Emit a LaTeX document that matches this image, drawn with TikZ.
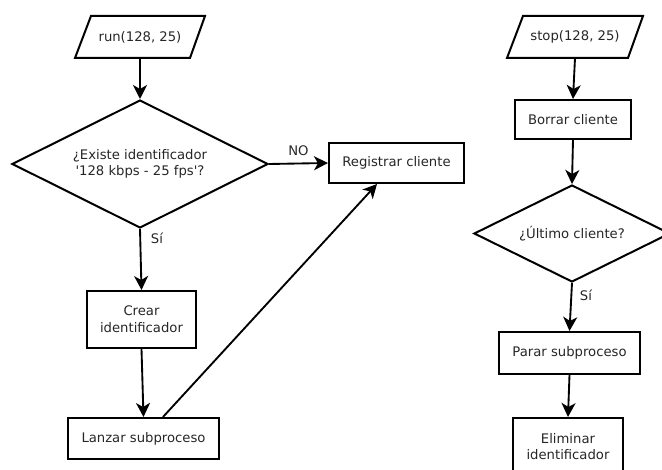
\documentclass[tikz,border=0pt]{standalone}
\usepackage{fontspec}
\setmainfont{DejaVu Sans}[Ligatures=TeXOff]
\usetikzlibrary{shapes.geometric,arrows.meta}
\definecolor{ink}{gray}{0.15}
\begin{document}
\begin{tikzpicture}[x=0.75pt,y=-0.75pt,
  every node/.style={font=\fontsize{9.9}{12.5}\selectfont,text=ink,align=center,inner sep=0pt},
  procbox/.style={draw,line width=1.5pt,rectangle},
  decision/.style={draw,line width=1.5pt,diamond,aspect=2},
  iobox/.style={draw=none,rectangle,minimum height=31.5pt},
  flow/.style={line width=1.4pt,-{Stealth[length=10.5pt,width=10.5pt,inset=3pt]}},
  lbl/.style={font=\fontsize{9.9}{12}\selectfont}]
\useasboundingbox (0,0) rectangle (662,470);
\clip (0,0) rectangle (662,470);

% --- run(128, 25) branch ---
\draw[line width=1.5pt,line join=miter] (91,16) -- (205,16) -- (190,58) -- (75,58) -- cycle;
\node[iobox] (run) at (140,37) {run(128, 25)};
\node[decision,minimum width=192pt,minimum height=96pt] (exist) at (140,164)
  {¿Existe identificador\\'128 kbps - 25 fps'?};
\node[procbox,minimum width=101.25pt,minimum height=30pt] (reg) at (396.5,163) {Registrar cliente};
\node[procbox,minimum width=81.75pt,minimum height=42.75pt] (crear) at (141.5,319.5) {Crear\\identificador};
\node[procbox,minimum width=113.25pt,minimum height=30.75pt] (lanzar) at (143.5,438.5) {Lanzar subproceso};

\draw[flow] (run.south) -- (exist.north);
\draw[flow] (exist.east) -- node[lbl,above=5pt] {NO} (reg.west);
\draw[flow] (exist.south) -- (crear.north);
\node[lbl] (si1) at (157,238) {Sí};
\draw[flow] (crear.south) -- (lanzar.north);
\draw[flow] ([xshift=14.6pt]lanzar.north) -- ([xshift=-14.6pt]reg.south);

% --- stop(128, 25) branch ---
\draw[line width=1.5pt,line join=miter] (523,16) -- (643,16) -- (628,58) -- (507,58) -- cycle;
\node[iobox] (stop) at (575,37) {stop(128, 25)};
\node[procbox,minimum width=87pt,minimum height=29.25pt] (borrar) at (573,119.5) {Borrar cliente};
\node[decision,minimum width=147pt,minimum height=72.75pt] (ultimo) at (572,233.5) {¿Último cliente?};
\node[procbox,minimum width=105.75pt,minimum height=31.5pt] (parar) at (569.5,353) {Parar subproceso};
\node[procbox,minimum width=82.5pt,minimum height=42.75pt] (elim) at (568,446.5) {Eliminar\\identificador};

\draw[flow] (stop.south) -- (borrar.north);
\draw[flow] (borrar.south) -- (ultimo.north);
\draw[flow] (ultimo.south) -- (parar.north);
\node[lbl] (si2) at (586,295) {Sí};
\draw[flow] (parar.south) -- (elim.north);
\end{tikzpicture}
\end{document}
